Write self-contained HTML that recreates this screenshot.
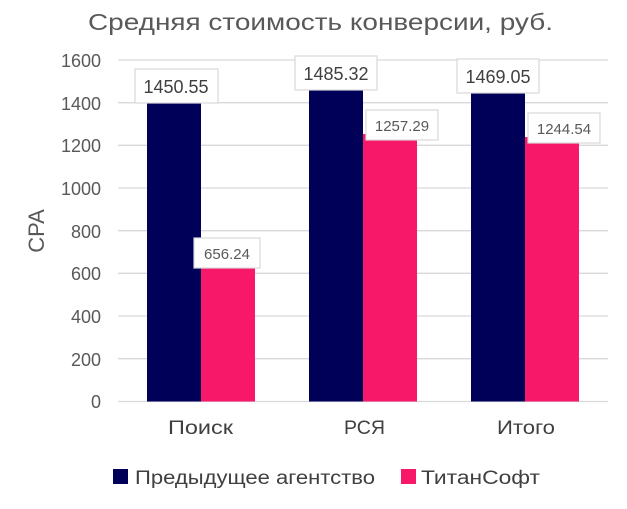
<!DOCTYPE html>
<html><head><meta charset="utf-8"><style>body{margin:0;background:#fff}svg{display:block}text{font-family:"Liberation Sans",sans-serif}</style></head><body>
<svg width="627" height="509" viewBox="0 0 627 509">
<rect width="627" height="509" fill="#fff"/>
<text x="88" y="30" font-size="23" fill="#595959" textLength="465" lengthAdjust="spacingAndGlyphs">Средняя стоимость конверсии, руб.</text>
<g stroke="#d9d9d9" stroke-width="1.3">
<line x1="118" x2="608" y1="60" y2="60"/><line x1="118" x2="608" y1="102.7" y2="102.7"/>
<line x1="118" x2="608" y1="145.3" y2="145.3"/><line x1="118" x2="608" y1="188" y2="188"/>
<line x1="118" x2="608" y1="230.7" y2="230.7"/><line x1="118" x2="608" y1="273.3" y2="273.3"/>
<line x1="118" x2="608" y1="316" y2="316"/><line x1="118" x2="608" y1="358.7" y2="358.7"/>
<line x1="118" x2="608" y1="401.5" y2="401.5"/></g>
<g font-size="18" fill="#595959" text-anchor="end">
<text x="101" y="67">1600</text><text x="101" y="110">1400</text><text x="101" y="152">1200</text>
<text x="101" y="195">1000</text><text x="101" y="238">800</text><text x="101" y="280">600</text>
<text x="101" y="323">400</text><text x="101" y="366">200</text><text x="101" y="408">0</text></g>
<text transform="translate(44,231) rotate(-90)" font-size="22" fill="#595959" text-anchor="middle">CPA</text>
<g fill="#000058">
<rect x="147" y="93" width="54" height="308.5"/>
<rect x="309" y="85.5" width="54" height="316"/>
<rect x="471" y="89" width="54" height="312.5"/></g>
<g fill="#f7186a">
<rect x="201" y="262" width="54" height="139.5"/>
<rect x="363" y="134" width="54" height="267.5"/>
<rect x="525" y="137" width="54" height="264.5"/></g>
<g fill="#fff" stroke="#d9d9d9" stroke-width="1.2">
<rect x="135" y="69" width="83" height="34"/>
<rect x="295" y="56" width="82" height="34"/>
<rect x="457" y="59" width="82" height="34"/>
<rect x="194" y="238" width="66" height="30"/>
<rect x="366" y="110" width="72" height="30"/>
<rect x="528" y="113" width="72" height="30"/></g>
<g font-size="18" fill="#404040" text-anchor="middle">
<text x="176" y="93">1450.55</text><text x="336" y="80">1485.32</text><text x="498" y="83">1469.05</text></g>
<g font-size="15" fill="#595959" text-anchor="middle">
<text x="227" y="259">656.24</text><text x="402" y="131">1257.29</text><text x="564" y="134">1244.54</text></g>
<g font-size="19" fill="#404040" lengthAdjust="spacingAndGlyphs">
<text x="168" y="434" textLength="65" lengthAdjust="spacingAndGlyphs">Поиск</text><text x="344" y="434" textLength="41" lengthAdjust="spacingAndGlyphs">РСЯ</text><text x="497" y="434" textLength="58" lengthAdjust="spacingAndGlyphs">Итого</text></g>
<rect x="113" y="469" width="15" height="15" fill="#000058"/>
<text x="135" y="484" font-size="19" fill="#404040" textLength="240" lengthAdjust="spacingAndGlyphs">Предыдущее агентство</text>
<rect x="401" y="469" width="15" height="15" fill="#f7186a"/>
<text x="421" y="484" font-size="19" fill="#404040" textLength="119" lengthAdjust="spacingAndGlyphs">ТитанСофт</text>
</svg></body></html>
